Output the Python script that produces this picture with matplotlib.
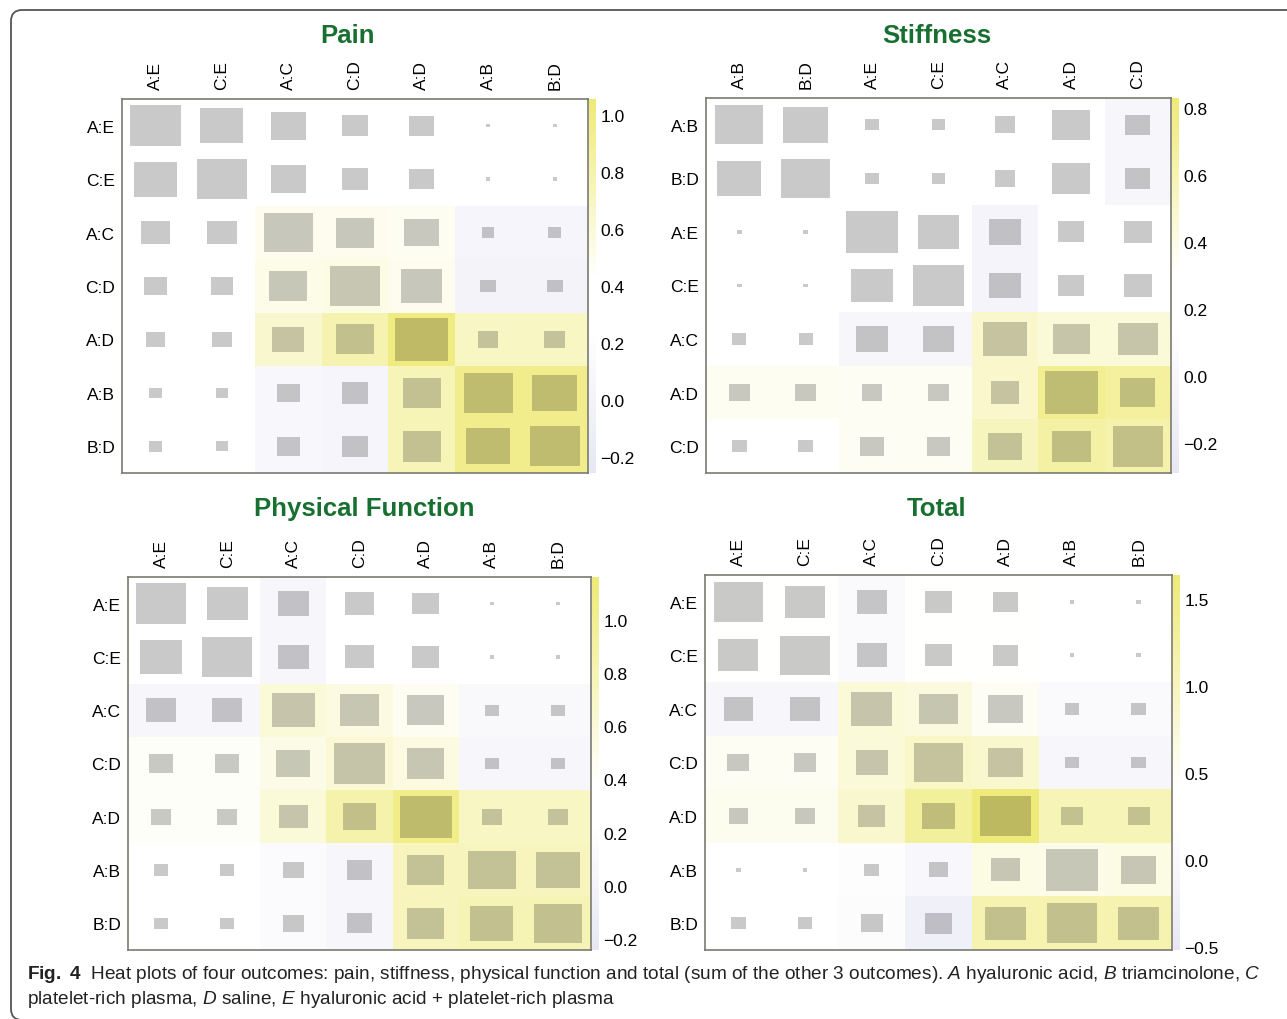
import numpy as np
import matplotlib
matplotlib.use('Agg')
import matplotlib.pyplot as plt
from matplotlib import font_manager
from matplotlib.colors import LinearSegmentedColormap, Normalize
from matplotlib.patches import Rectangle, FancyBboxPatch
from matplotlib.cm import ScalarMappable
from matplotlib.ticker import FuncFormatter

W, H = 1287, 1020

# --- data -------------------------------------------------------------
pain_labels = ['A:E', 'C:E', 'A:C', 'C:D', 'A:D', 'A:B', 'B:D']
stiff_labels = ['A:B', 'B:D', 'A:E', 'C:E', 'A:C', 'A:D', 'C:D']
func_labels = ['A:E', 'C:E', 'A:C', 'C:D', 'A:D', 'A:B', 'B:D']
total_labels = ['A:E', 'C:E', 'A:C', 'C:D', 'A:D', 'A:B', 'B:D']

# background (heat) values, rows top to bottom
pain_heat = [
    [0.33, 0.33, 0.33, 0.33, 0.33, 0.33, 0.33],
    [0.33, 0.33, 0.33, 0.33, 0.33, 0.33, 0.33],
    [0.33, 0.33, 0.50, 0.50, 0.48, 0.05, 0.05],
    [0.33, 0.33, 0.52, 0.55, 0.50, 0.00, 0.00],
    [0.33, 0.33, 0.65, 0.78, 1.00, 0.70, 0.70],
    [0.33, 0.33, 0.10, 0.05, 0.75, 0.95, 0.95],
    [0.33, 0.33, 0.10, 0.05, 0.75, 0.95, 0.95],
]
stiff_heat = [
    [0.22, 0.22, 0.22, 0.22, 0.22, 0.22, 0.00],
    [0.22, 0.22, 0.22, 0.22, 0.22, 0.22, 0.00],
    [0.22, 0.22, 0.22, 0.22, -0.05, 0.22, 0.22],
    [0.22, 0.22, 0.22, 0.22, -0.05, 0.22, 0.22],
    [0.22, 0.22, 0.00, 0.00, 0.50, 0.45, 0.45],
    [0.35, 0.35, 0.34, 0.34, 0.50, 0.72, 0.68],
    [0.22, 0.22, 0.34, 0.34, 0.55, 0.65, 0.62],
]
func_heat = [
    [0.30, 0.30, 0.05, 0.30, 0.30, 0.30, 0.30],
    [0.30, 0.30, 0.05, 0.30, 0.30, 0.30, 0.30],
    [0.05, 0.05, 0.60, 0.55, 0.45, 0.10, 0.10],
    [0.42, 0.42, 0.52, 0.62, 0.55, 0.05, 0.05],
    [0.42, 0.42, 0.60, 0.85, 1.05, 0.72, 0.72],
    [0.30, 0.30, 0.15, 0.05, 0.75, 0.75, 0.75],
    [0.30, 0.30, 0.15, 0.05, 0.75, 0.80, 0.80],
]
total_heat = [
    [0.42, 0.42, 0.05, 0.42, 0.42, 0.30, 0.30],
    [0.42, 0.42, 0.05, 0.42, 0.42, 0.30, 0.30],
    [-0.05, -0.05, 0.75, 0.70, 0.50, 0.05, 0.05],
    [0.50, 0.50, 0.75, 0.90, 0.85, -0.05, -0.05],
    [0.55, 0.55, 0.85, 1.30, 1.60, 1.05, 1.05],
    [0.30, 0.30, 0.15, 0.00, 0.65, 0.60, 0.65],
    [0.30, 0.30, 0.10, -0.25, 1.10, 1.10, 1.10],
]

# square side as a share of the cell
pain_size = [
    [0.77, 0.65, 0.52, 0.40, 0.38, 0.065, 0.065],
    [0.65, 0.76, 0.52, 0.40, 0.38, 0.065, 0.065],
    [0.43, 0.44, 0.73, 0.56, 0.52, 0.19, 0.19],
    [0.35, 0.34, 0.57, 0.76, 0.62, 0.24, 0.24],
    [0.28, 0.29, 0.48, 0.56, 0.79, 0.31, 0.31],
    [0.20, 0.19, 0.35, 0.40, 0.57, 0.74, 0.68],
    [0.20, 0.19, 0.35, 0.40, 0.57, 0.67, 0.75],
]
stiff_size = [
    [0.73, 0.67, 0.20, 0.21, 0.31, 0.57, 0.38],
    [0.66, 0.73, 0.20, 0.21, 0.31, 0.57, 0.38],
    [0.07, 0.07, 0.77, 0.63, 0.48, 0.39, 0.42],
    [0.07, 0.07, 0.62, 0.77, 0.48, 0.39, 0.42],
    [0.21, 0.21, 0.48, 0.47, 0.65, 0.56, 0.60],
    [0.32, 0.31, 0.31, 0.31, 0.43, 0.79, 0.53],
    [0.22, 0.22, 0.36, 0.36, 0.51, 0.58, 0.76],
]
func_size = [
    [0.76, 0.62, 0.46, 0.43, 0.40, 0.065, 0.065],
    [0.63, 0.76, 0.46, 0.43, 0.40, 0.065, 0.065],
    [0.46, 0.46, 0.64, 0.59, 0.56, 0.21, 0.21],
    [0.36, 0.36, 0.51, 0.78, 0.57, 0.21, 0.21],
    [0.30, 0.30, 0.43, 0.51, 0.79, 0.31, 0.30],
    [0.21, 0.21, 0.31, 0.37, 0.57, 0.72, 0.66],
    [0.21, 0.21, 0.31, 0.37, 0.57, 0.65, 0.73],
]
total_size = [
    [0.74, 0.59, 0.45, 0.41, 0.38, 0.07, 0.07],
    [0.60, 0.74, 0.45, 0.41, 0.38, 0.07, 0.07],
    [0.44, 0.44, 0.62, 0.57, 0.52, 0.22, 0.22],
    [0.33, 0.34, 0.48, 0.74, 0.53, 0.22, 0.22],
    [0.29, 0.29, 0.40, 0.48, 0.76, 0.33, 0.33],
    [0.07, 0.07, 0.22, 0.28, 0.43, 0.78, 0.52],
    [0.22, 0.22, 0.33, 0.40, 0.61, 0.74, 0.61],
]

pain_ticks = [-0.2, 0.0, 0.2, 0.4, 0.6, 0.8, 1.0]
stiff_ticks = [-0.2, 0.0, 0.2, 0.4, 0.6, 0.8]
func_ticks = [-0.2, 0.0, 0.2, 0.4, 0.6, 0.8, 1.0]
total_ticks = [-0.5, 0.0, 0.5, 1.0, 1.5]

# --- styling ----------------------------------------------------------
names = {f.name for f in font_manager.fontManager.ttflist}
cap_font = 'Liberation Sans Narrow' if 'Liberation Sans Narrow' in names else 'Liberation Sans'
plt.rcParams['font.family'] = ['Liberation Sans', 'DejaVu Sans']
plt.rcParams['mathtext.fontset'] = 'custom'
plt.rcParams['mathtext.rm'] = cap_font
plt.rcParams['mathtext.it'] = cap_font + ':italic'
plt.rcParams['mathtext.bf'] = cap_font + ':bold'

LAV = '#e7e7f4'
YEL = '#efea76'
GREEN = '#17702f'
FRAME = '#7a7a72'


def box(x0, y0, x1, y1):
    return [x0 / W, 1 - y1 / H, (x1 - x0) / W, (y1 - y0) / H]


def heat_cmap(vmin, vmax, lo, hi):
    f = lambda v: (v - vmin) / (vmax - vmin)
    return LinearSegmentedColormap.from_list(
        'heat', [(0, LAV), (f(lo), 'white'), (f(hi), 'white'), (1, YEL)])


def minus_fmt(v, pos):
    s = f'{v:.1f}'
    if s == '-0.0':
        s = '0.0'
    return s.replace('-', '\u2212')


fig = plt.figure(figsize=(W / 100, H / 100), dpi=100)

# rounded frame around the whole figure
bg = fig.add_axes([0, 0, 1, 1], zorder=-5)
bg.set_xlim(0, W)
bg.set_ylim(H, 0)
bg.axis('off')
bg.add_patch(FancyBboxPatch((11, 11), 1320, 1010, boxstyle='round,pad=0,rounding_size=11',
                            fc='none', ec='#555555', lw=1.3))

panels = [
    ('Pain', pain_labels, pain_heat, pain_size, pain_ticks,
     (-0.256, 1.056), (0.25, 0.42), (122, 100, 588, 474), (348, 36)),
    ('Stiffness', stiff_labels, stiff_heat, stiff_size, stiff_ticks,
     (-0.29, 0.83), (0.15, 0.30), (706, 99, 1171, 474), (937, 36)),
    ('Physical Function', func_labels, func_heat, func_size, func_ticks,
     (-0.24, 1.16), (0.22, 0.38), (128, 578, 591, 951), (364, 509)),
    ('Total', total_labels, total_heat, total_size, total_ticks,
     (-0.52, 1.64), (0.20, 0.40), (705, 576, 1172, 951), (937, 509)),
]

for title, labels, heat, size, ticks, (vmin, vmax), (lo, hi), (x0, y0, x1, y1), (tx, ty) in panels:
    heat = np.array(heat)
    size = np.array(size)
    n = len(labels)
    cmap = heat_cmap(vmin, vmax, lo, hi)
    norm = Normalize(vmin, vmax)

    ax = fig.add_axes(box(x0, y0, x1, y1))
    ax.pcolormesh(np.arange(n + 1), np.arange(n + 1), heat, cmap=cmap, norm=norm)
    # grey squares darken whatever cell colour sits under them
    for i in range(n):
        for j in range(n):
            s = size[i, j]
            c = np.array(cmap(norm(heat[i, j]))[:3]) * 0.79
            ax.add_patch(Rectangle((j + 0.5 - s / 2, i + 0.5 - s / 2), s, s,
                                   fc=c, ec='none'))
    ax.set_xlim(0, n)
    ax.set_ylim(n, 0)
    ax.set_xticks(np.arange(n) + 0.5)
    ax.set_yticks(np.arange(n) + 0.5)
    ax.set_xticklabels(labels, rotation=90)
    ax.set_yticklabels(labels)
    ax.xaxis.tick_top()
    ax.tick_params(axis='x', length=0, pad=7, labelsize=12.5)
    ax.tick_params(axis='y', length=0, pad=5, labelsize=12.5)
    for sp in ax.spines.values():
        sp.set_color(FRAME)
        sp.set_linewidth(1.2)

    cax = fig.add_axes(box(x1 + 1, y0, x1 + 8, y1))
    cb = fig.colorbar(ScalarMappable(norm=norm, cmap=cmap), cax=cax, ticks=ticks,
                      format=FuncFormatter(minus_fmt))
    cb.outline.set_visible(False)
    cax.tick_params(length=0, pad=3, labelsize=12.5)

    fig.text(tx / W, 1 - ty / H, title, ha='center', va='center',
             fontsize=18.5, fontweight='bold', color=GREEN)

# caption
cap_size = 15.5 if cap_font.endswith('Narrow') else 13.7
line1 = (r'$\mathbf{Fig.\ 4}$  Heat plots of four outcomes: pain, stiffness, physical function '
         r'and total (sum of the other 3 outcomes). $\mathit{A}$ hyaluronic acid, '
         r'$\mathit{B}$ triamcinolone, $\mathit{C}$')
line2 = (r'platelet-rich plasma, $\mathit{D}$ saline, $\mathit{E}$ hyaluronic acid + '
         r'platelet-rich plasma')
fig.text(27 / W, 1 - 975 / H, line1, ha='left', va='center', fontsize=cap_size,
         family=cap_font, color='#222222')
fig.text(27 / W, 1 - 1000 / H, line2, ha='left', va='center', fontsize=cap_size,
         family=cap_font, color='#222222')

fig.savefig('out.png', dpi=100)
